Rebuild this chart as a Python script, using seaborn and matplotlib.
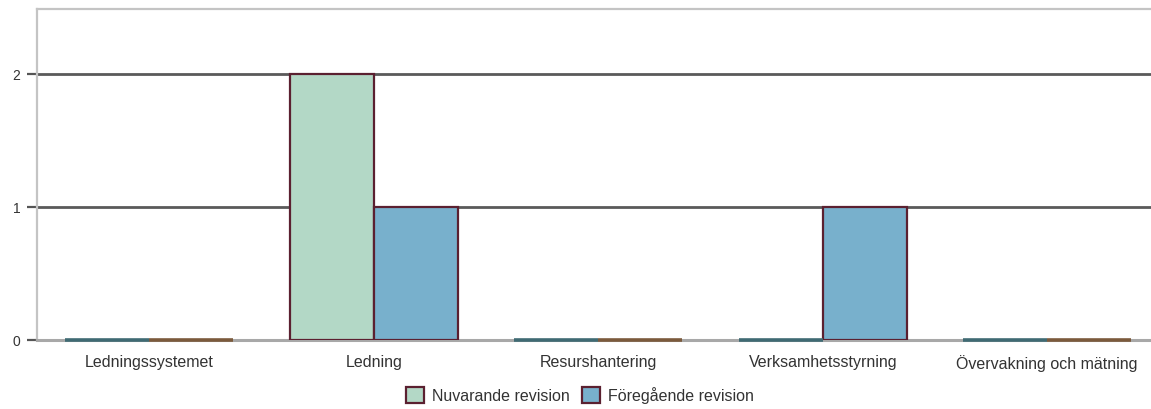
import matplotlib
matplotlib.use("Agg")
import matplotlib.pyplot as plt
import seaborn as sns
import pandas as pd
from matplotlib.patches import Patch

categories = ["Ledningssystemet", "Ledning", "Resurshantering",
              "Verksamhetsstyrning", "Övervakning och mätning"]
series_names = ["Nuvarande revision", "Föregående revision"]
current = [0, 2, 0, 0, 0]
previous = [0, 1, 0, 1, 0]
yticks = [0, 1, 2]

colors = ["#b3d8c6", "#78b0cc"]
zero_edge = ["#3f6a73", "#7b5a3c"]
edge = "#5b2030"

df = pd.DataFrame({
    "Kategori": categories * 2,
    "Värde": current + previous,
    "Serie": [series_names[0]] * len(categories) + [series_names[1]] * len(categories),
})

sns.set_theme(style="white")
plt.rcParams["font.family"] = ["Liberation Sans", "DejaVu Sans"]

fig = plt.figure(figsize=(11.51, 4.09), dpi=100)
ax = fig.add_axes([37 / 1151, 69 / 409, 5 * 224.5 / 1151, 331 / 409])

sns.barplot(data=df, x="Kategori", y="Värde", hue="Serie", hue_order=series_names,
            order=categories, palette=colors, saturation=1, width=0.75, gap=0, dodge=True,
            edgecolor=edge, linewidth=1.6, ax=ax, legend=False, errorbar=None)

# style zero-height bars as coloured lines
for i, cont in enumerate(ax.containers):
    vals = [current, previous][i]
    for patch, v in zip(cont.patches, vals):
        if v == 0:
            patch.set_edgecolor(zero_edge[i])
            patch.set_linewidth(2.6)
            patch.set_zorder(4)
            patch.set_clip_on(False)
        else:
            patch.set_zorder(3)

ax.set_ylim(0, 2.49)
ax.set_xlim(-0.5, len(categories) - 0.5)
ax.set_yticks(yticks)
ax.set_yticklabels([str(t) for t in yticks])
for t in yticks[1:]:
    ax.axhline(t, color="#5a5a5a", lw=2, zorder=1)

ax.set_xlabel("")
ax.set_ylabel("")
for s in ["top", "left", "bottom", "right"]:
    ax.spines[s].set_color("#c4c4c4")
    ax.spines[s].set_linewidth(1.6)
ax.spines["bottom"].set_color("#a8a8a8")
ax.spines["bottom"].set_linewidth(2.2)

ax.tick_params(axis="y", length=7, width=1.6, color="#555555", pad=5,
               labelsize=10, labelcolor="#333333", left=True)
ax.tick_params(axis="x", length=0, pad=11, labelsize=11.5, labelcolor="#333333")

handles = [Patch(facecolor=c, edgecolor=edge, linewidth=1.6) for c in colors]
fig.legend(handles, series_names, loc="center", bbox_to_anchor=(0.504, 0.034),
           ncol=2, frameon=False, fontsize=11.5, handlelength=1.1, handleheight=1.1,
           columnspacing=0.8, handletextpad=0.5, labelcolor="#333333")

fig.savefig("out.png", dpi=100)
